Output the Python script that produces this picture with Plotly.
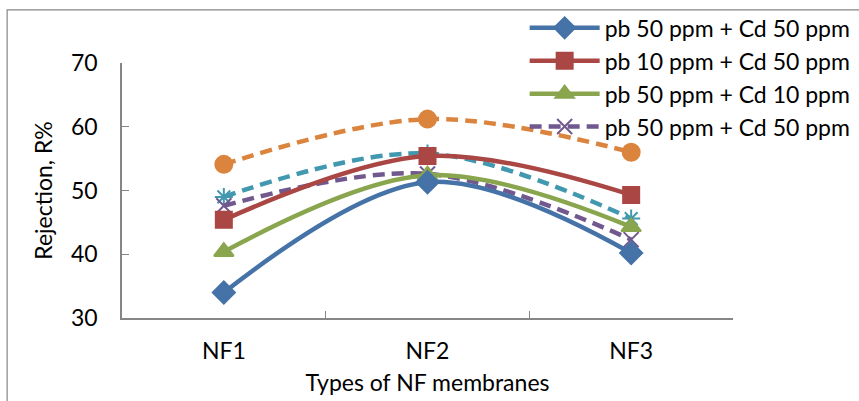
import plotly.graph_objects as go

categories = ["NF1", "NF2", "NF3"]
series_names = [
    "pb 50 ppm + Cd 50 ppm",
    "pb 10 ppm + Cd 50 ppm",
    "pb 50 ppm + Cd 10 ppm",
    "pb 50 ppm + Cd 50 ppm",
    "series 5",
    "series 6",
]
blue_vals = [34.0, 51.3, 40.2]
red_vals = [45.4, 55.4, 49.3]
green_vals = [40.4, 52.4, 44.3]
purple_vals = [47.6, 52.6, 42.3]
orange_vals = [54.1, 61.2, 56.0]
teal_vals = [49.0, 55.8, 45.6]
y_ticks = [30, 40, 50, 60, 70]

FONT = "Lato"
styles = [
    (blue_vals, "#4572A7", "solid", "diamond", 17, True, "v1"),
    (red_vals, "#AA4643", "solid", "square", 16, True, "v2"),
    (green_vals, "#89A54E", "solid", "triangle-up", 17, True, "v3"),
    (purple_vals, "#71588F", "dash", "x-thin-open", 15, True, "v4"),
    (orange_vals, "#DB843D", "dash", "circle", 17, False, "v5"),
    (teal_vals, "#4198AF", "dash", "asterisk-open", 15, False, "v6"),
]
order = [4, 5, 3, 1, 2, 0]

fig = go.Figure()
for i in order:
    vals, col, dash, sym, size, show, grp = styles[i]
    fig.add_trace(go.Scatter(
        x=categories, y=vals, name=series_names[i], mode="lines+markers",
        line=dict(color=col, width=4.5, shape="spline", smoothing=1.0,
                  dash="12px,7px" if dash == "dash" else "solid"),
        marker=dict(symbol=sym, size=size, color=col,
                    line=dict(color=col, width=2)),
        showlegend=show, legendgroup=grp, legendrank=i,
    ))

fig.add_shape(type="rect", xref="paper", yref="paper",
              x0=-0.188, x1=1.5, y0=-0.5, y1=1.208,
              line=dict(color="#868686", width=1.2), fillcolor="rgba(0,0,0,0)",
              layer="below")

fig.update_layout(
    width=859, height=401,
    margin=dict(l=122, r=126, t=63, b=83, autoexpand=False),
    paper_bgcolor="white", plot_bgcolor="white",
    font=dict(family=FONT, size=23, color="black"),
    legend=dict(
        x=0.659, y=1.222, xanchor="left", yanchor="top",
        bgcolor="rgba(255,255,255,0)", font=dict(size=23, family=FONT),
        tracegroupgap=5, traceorder="normal", itemwidth=70,
    ),
    xaxis=dict(
        type="category", range=[-0.5, 2.5],
        showline=True, linecolor="#868686", linewidth=1.5,
        ticks="inside", ticklen=7, tickcolor="#868686", tickson="boundaries",
        showgrid=False, zeroline=False, ticklabelstandoff=12,
        title=dict(text="Types of NF membranes", standoff=12,
                   font=dict(size=23, family=FONT)),
    ),
    yaxis=dict(
        range=[30, 70], tickvals=y_ticks,
        showline=True, linecolor="#868686", linewidth=1.5,
        ticks="inside", ticklen=7, tickcolor="#868686",
        showgrid=False, zeroline=False, ticklabelstandoff=18,
        title=dict(text="Rejection, R%", standoff=12,
                   font=dict(size=23, family=FONT)),
    ),
)

fig.write_html("out.html")
